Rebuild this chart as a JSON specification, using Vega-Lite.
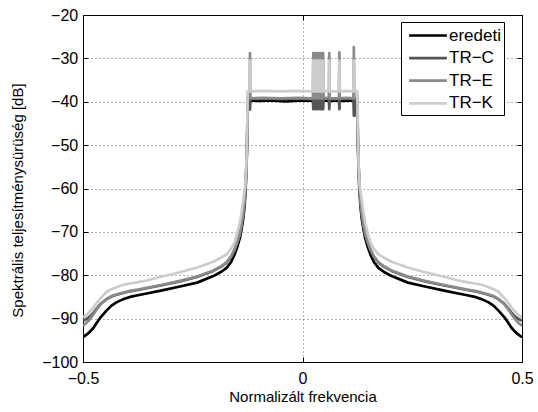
{
 "$schema": "https://vega.github.io/schema/vega-lite/v6.json",
 "width": 439, "height": 347,
 "autosize": {"type": "none"},
 "padding": {"left": 83, "top": 15, "right": 16, "bottom": 50},
 "background": "white",
 "config": {
  "view": {"stroke": "#000", "strokeWidth": 1},
  "font": "Liberation Sans",
  "axis": {"domainColor": "#000", "tickColor": "#000", "labelColor": "#000", "titleColor": "#000",
   "labelFont": "Liberation Sans", "titleFont": "Liberation Sans", "labelFontSize": 16, "titleFontSize": 15,
   "titleFontWeight": "normal", "gridColor": "#666", "gridDash": [1, 3], "gridWidth": 1, "tickSize": -5, "labelFlush": false}
 },
 "data": {"values": [
  {"s":"eredeti","f":-0.5,"v":-94.3},{"s":"eredeti","f":-0.492,"v":-93.7},{"s":"eredeti","f":-0.484,"v":-93.0},{"s":"eredeti","f":-0.476,"v":-92.1},{"s":"eredeti","f":-0.469,"v":-91.0},{"s":"eredeti","f":-0.46,"v":-89.7},{"s":"eredeti","f":-0.446,"v":-88.1},{"s":"eredeti","f":-0.435,"v":-87.0},{"s":"eredeti","f":-0.423,"v":-86.2},{"s":"eredeti","f":-0.408,"v":-85.5},{"s":"eredeti","f":-0.393,"v":-85.0},{"s":"eredeti","f":-0.375,"v":-84.6},{"s":"eredeti","f":-0.355,"v":-84.2},{"s":"eredeti","f":-0.32,"v":-83.5},{"s":"eredeti","f":-0.279,"v":-82.6},{"s":"eredeti","f":-0.24,"v":-81.7},{"s":"eredeti","f":-0.203,"v":-80.2},{"s":"eredeti","f":-0.185,"v":-79.2},{"s":"eredeti","f":-0.173,"v":-78.3},{"s":"eredeti","f":-0.163,"v":-77.0},{"s":"eredeti","f":-0.155,"v":-75.3},{"s":"eredeti","f":-0.148,"v":-73.3},{"s":"eredeti","f":-0.143,"v":-71.5},{"s":"eredeti","f":-0.139,"v":-69.5},{"s":"eredeti","f":-0.135,"v":-67},{"s":"eredeti","f":-0.132,"v":-64},{"s":"eredeti","f":-0.1295,"v":-60},{"s":"eredeti","f":-0.1275,"v":-55},{"s":"eredeti","f":-0.126,"v":-49},{"s":"eredeti","f":-0.125,"v":-39.9},
  {"s":"eredeti","f":-0.12,"v":-39.7},{"s":"eredeti","f":-0.1,"v":-39.8},{"s":"eredeti","f":-0.07,"v":-39.7},{"s":"eredeti","f":-0.04,"v":-39.9},{"s":"eredeti","f":0,"v":-39.7},{"s":"eredeti","f":0.03,"v":-39.8},{"s":"eredeti","f":0.06,"v":-39.7},{"s":"eredeti","f":0.09,"v":-39.8},{"s":"eredeti","f":0.12,"v":-39.7},
  {"s":"eredeti","f":0.125,"v":-39.9},{"s":"eredeti","f":0.126,"v":-49},{"s":"eredeti","f":0.1275,"v":-55},{"s":"eredeti","f":0.1295,"v":-60},{"s":"eredeti","f":0.132,"v":-64},{"s":"eredeti","f":0.135,"v":-67},{"s":"eredeti","f":0.139,"v":-69.5},{"s":"eredeti","f":0.143,"v":-71.5},{"s":"eredeti","f":0.148,"v":-73.3},{"s":"eredeti","f":0.155,"v":-75.3},{"s":"eredeti","f":0.163,"v":-77.0},{"s":"eredeti","f":0.173,"v":-78.3},{"s":"eredeti","f":0.185,"v":-79.2},{"s":"eredeti","f":0.203,"v":-80.2},{"s":"eredeti","f":0.24,"v":-81.7},{"s":"eredeti","f":0.279,"v":-82.6},{"s":"eredeti","f":0.32,"v":-83.5},{"s":"eredeti","f":0.355,"v":-84.2},{"s":"eredeti","f":0.375,"v":-84.6},{"s":"eredeti","f":0.393,"v":-85.0},{"s":"eredeti","f":0.408,"v":-85.5},{"s":"eredeti","f":0.423,"v":-86.2},{"s":"eredeti","f":0.435,"v":-87.0},{"s":"eredeti","f":0.446,"v":-88.1},{"s":"eredeti","f":0.46,"v":-89.7},{"s":"eredeti","f":0.469,"v":-91.0},{"s":"eredeti","f":0.476,"v":-92.1},{"s":"eredeti","f":0.484,"v":-93.0},{"s":"eredeti","f":0.492,"v":-93.7},{"s":"eredeti","f":0.5,"v":-94.3},

  {"s":"TR−C","f":-0.5,"v":-90.5},{"s":"TR−C","f":-0.492,"v":-90.1},{"s":"TR−C","f":-0.484,"v":-89.5},{"s":"TR−C","f":-0.476,"v":-88.6},{"s":"TR−C","f":-0.469,"v":-87.7},{"s":"TR−C","f":-0.46,"v":-86.6},{"s":"TR−C","f":-0.446,"v":-85.5},{"s":"TR−C","f":-0.435,"v":-84.9},{"s":"TR−C","f":-0.423,"v":-84.5},{"s":"TR−C","f":-0.408,"v":-84.1},{"s":"TR−C","f":-0.393,"v":-83.7},{"s":"TR−C","f":-0.375,"v":-83.4},{"s":"TR−C","f":-0.355,"v":-83.0},{"s":"TR−C","f":-0.32,"v":-82.3},{"s":"TR−C","f":-0.279,"v":-81.4},{"s":"TR−C","f":-0.24,"v":-80.4},{"s":"TR−C","f":-0.203,"v":-79.0},{"s":"TR−C","f":-0.185,"v":-78.0},{"s":"TR−C","f":-0.173,"v":-77.1},{"s":"TR−C","f":-0.163,"v":-75.8},{"s":"TR−C","f":-0.155,"v":-74.2},{"s":"TR−C","f":-0.148,"v":-72.3},{"s":"TR−C","f":-0.143,"v":-70.6},{"s":"TR−C","f":-0.139,"v":-68.6},{"s":"TR−C","f":-0.135,"v":-66},{"s":"TR−C","f":-0.132,"v":-63},{"s":"TR−C","f":-0.1295,"v":-59},{"s":"TR−C","f":-0.1275,"v":-54},{"s":"TR−C","f":-0.126,"v":-48},{"s":"TR−C","f":-0.125,"v":-39.4},
  {"s":"TR−C","f":-0.1206,"v":-39.4},{"s":"TR−C","f":-0.1196,"v":-41.8},{"s":"TR−C","f":-0.1186,"v":-39.4},{"s":"TR−C","f":-0.09,"v":-39.3},{"s":"TR−C","f":-0.05,"v":-39.4},{"s":"TR−C","f":-0.01,"v":-39.3},{"s":"TR−C","f":0.02,"v":-39.4},
  {"s":"TR−C","f":0.0236,"v":-39.4},{"s":"TR−C","f":0.0246,"v":-41.7},{"s":"TR−C","f":0.0266,"v":-39.4},{"s":"TR−C","f":0.0286,"v":-41.7},{"s":"TR−C","f":0.0306,"v":-39.4},{"s":"TR−C","f":0.0326,"v":-41.7},{"s":"TR−C","f":0.0346,"v":-39.4},{"s":"TR−C","f":0.0366,"v":-41.7},{"s":"TR−C","f":0.0386,"v":-39.4},{"s":"TR−C","f":0.0406,"v":-41.7},{"s":"TR−C","f":0.0426,"v":-39.4},{"s":"TR−C","f":0.0446,"v":-41.7},{"s":"TR−C","f":0.0458,"v":-39.4},{"s":"TR−C","f":0.047,"v":-41.7},{"s":"TR−C","f":0.048,"v":-39.4},
  {"s":"TR−C","f":0.055,"v":-39.3},{"s":"TR−C","f":0.06,"v":-39.4},{"s":"TR−C","f":0.061,"v":-41.7},{"s":"TR−C","f":0.062,"v":-39.4},{"s":"TR−C","f":0.083,"v":-39.4},{"s":"TR−C","f":0.084,"v":-41.7},{"s":"TR−C","f":0.085,"v":-39.4},{"s":"TR−C","f":0.1,"v":-39.3},{"s":"TR−C","f":0.116,"v":-39.4},{"s":"TR−C","f":0.117,"v":-43.2},{"s":"TR−C","f":0.118,"v":-39.4},{"s":"TR−C","f":0.119,"v":-43.2},{"s":"TR−C","f":0.12,"v":-39.4},{"s":"TR−C","f":0.125,"v":-39.4},
  {"s":"TR−C","f":0.126,"v":-48},{"s":"TR−C","f":0.1275,"v":-54},{"s":"TR−C","f":0.1295,"v":-59},{"s":"TR−C","f":0.132,"v":-63},{"s":"TR−C","f":0.135,"v":-66},{"s":"TR−C","f":0.139,"v":-68.6},{"s":"TR−C","f":0.143,"v":-70.6},{"s":"TR−C","f":0.148,"v":-72.3},{"s":"TR−C","f":0.155,"v":-74.2},{"s":"TR−C","f":0.163,"v":-75.8},{"s":"TR−C","f":0.173,"v":-77.1},{"s":"TR−C","f":0.185,"v":-78.0},{"s":"TR−C","f":0.203,"v":-79.0},{"s":"TR−C","f":0.24,"v":-80.4},{"s":"TR−C","f":0.279,"v":-81.4},{"s":"TR−C","f":0.32,"v":-82.3},{"s":"TR−C","f":0.355,"v":-83.0},{"s":"TR−C","f":0.375,"v":-83.4},{"s":"TR−C","f":0.393,"v":-83.7},{"s":"TR−C","f":0.408,"v":-84.1},{"s":"TR−C","f":0.423,"v":-84.5},{"s":"TR−C","f":0.435,"v":-84.9},{"s":"TR−C","f":0.446,"v":-85.5},{"s":"TR−C","f":0.46,"v":-86.6},{"s":"TR−C","f":0.469,"v":-87.7},{"s":"TR−C","f":0.476,"v":-88.6},{"s":"TR−C","f":0.484,"v":-89.5},{"s":"TR−C","f":0.492,"v":-90.1},{"s":"TR−C","f":0.5,"v":-90.5},

  {"s":"TR−E","f":-0.5,"v":-91.6},{"s":"TR−E","f":-0.492,"v":-91.0},{"s":"TR−E","f":-0.484,"v":-90.1},{"s":"TR−E","f":-0.476,"v":-89.0},{"s":"TR−E","f":-0.469,"v":-87.9},{"s":"TR−E","f":-0.46,"v":-86.7},{"s":"TR−E","f":-0.446,"v":-85.4},{"s":"TR−E","f":-0.435,"v":-84.8},{"s":"TR−E","f":-0.423,"v":-84.4},{"s":"TR−E","f":-0.408,"v":-84.0},{"s":"TR−E","f":-0.393,"v":-83.6},{"s":"TR−E","f":-0.375,"v":-83.3},{"s":"TR−E","f":-0.355,"v":-82.9},{"s":"TR−E","f":-0.32,"v":-82.2},{"s":"TR−E","f":-0.279,"v":-81.3},{"s":"TR−E","f":-0.24,"v":-80.3},{"s":"TR−E","f":-0.203,"v":-78.9},{"s":"TR−E","f":-0.185,"v":-77.9},{"s":"TR−E","f":-0.173,"v":-77.0},{"s":"TR−E","f":-0.163,"v":-75.7},{"s":"TR−E","f":-0.155,"v":-74.1},{"s":"TR−E","f":-0.148,"v":-72.2},{"s":"TR−E","f":-0.143,"v":-70.5},{"s":"TR−E","f":-0.139,"v":-68.5},{"s":"TR−E","f":-0.135,"v":-65.8},{"s":"TR−E","f":-0.132,"v":-62.8},{"s":"TR−E","f":-0.1295,"v":-58.8},{"s":"TR−E","f":-0.1275,"v":-53.8},{"s":"TR−E","f":-0.126,"v":-47.8},{"s":"TR−E","f":-0.125,"v":-39.2},
  {"s":"TR−E","f":-0.1206,"v":-39.2},{"s":"TR−E","f":-0.1196,"v":-28.8},{"s":"TR−E","f":-0.1186,"v":-39.2},{"s":"TR−E","f":-0.09,"v":-39.1},{"s":"TR−E","f":-0.05,"v":-39.2},{"s":"TR−E","f":-0.01,"v":-39.1},{"s":"TR−E","f":0.02,"v":-39.2},
  {"s":"TR−E","f":0.0236,"v":-39.2},{"s":"TR−E","f":0.0246,"v":-28.8},{"s":"TR−E","f":0.0266,"v":-39.2},{"s":"TR−E","f":0.0286,"v":-28.8},{"s":"TR−E","f":0.0306,"v":-39.2},{"s":"TR−E","f":0.0326,"v":-28.8},{"s":"TR−E","f":0.0346,"v":-39.2},{"s":"TR−E","f":0.0366,"v":-28.8},{"s":"TR−E","f":0.0386,"v":-39.2},{"s":"TR−E","f":0.0406,"v":-28.8},{"s":"TR−E","f":0.0426,"v":-39.2},{"s":"TR−E","f":0.0446,"v":-28.8},{"s":"TR−E","f":0.0458,"v":-39.2},{"s":"TR−E","f":0.047,"v":-28.8},{"s":"TR−E","f":0.048,"v":-39.2},
  {"s":"TR−E","f":0.055,"v":-39.1},{"s":"TR−E","f":0.06,"v":-39.2},{"s":"TR−E","f":0.061,"v":-28.8},{"s":"TR−E","f":0.062,"v":-39.2},{"s":"TR−E","f":0.083,"v":-39.2},{"s":"TR−E","f":0.084,"v":-28.6},{"s":"TR−E","f":0.085,"v":-39.2},{"s":"TR−E","f":0.1,"v":-39.1},{"s":"TR−E","f":0.116,"v":-39.2},{"s":"TR−E","f":0.117,"v":-27.4},{"s":"TR−E","f":0.118,"v":-39.2},{"s":"TR−E","f":0.125,"v":-39.2},
  {"s":"TR−E","f":0.126,"v":-47.8},{"s":"TR−E","f":0.1275,"v":-53.8},{"s":"TR−E","f":0.1295,"v":-58.8},{"s":"TR−E","f":0.132,"v":-62.8},{"s":"TR−E","f":0.135,"v":-65.8},{"s":"TR−E","f":0.139,"v":-68.5},{"s":"TR−E","f":0.143,"v":-70.5},{"s":"TR−E","f":0.148,"v":-72.2},{"s":"TR−E","f":0.155,"v":-74.1},{"s":"TR−E","f":0.163,"v":-75.7},{"s":"TR−E","f":0.173,"v":-77.0},{"s":"TR−E","f":0.185,"v":-77.9},{"s":"TR−E","f":0.203,"v":-78.9},{"s":"TR−E","f":0.24,"v":-80.3},{"s":"TR−E","f":0.279,"v":-81.3},{"s":"TR−E","f":0.32,"v":-82.2},{"s":"TR−E","f":0.355,"v":-82.9},{"s":"TR−E","f":0.375,"v":-83.3},{"s":"TR−E","f":0.393,"v":-83.6},{"s":"TR−E","f":0.408,"v":-84.0},{"s":"TR−E","f":0.423,"v":-84.4},{"s":"TR−E","f":0.435,"v":-84.8},{"s":"TR−E","f":0.446,"v":-85.4},{"s":"TR−E","f":0.46,"v":-86.7},{"s":"TR−E","f":0.469,"v":-87.9},{"s":"TR−E","f":0.476,"v":-89.0},{"s":"TR−E","f":0.484,"v":-90.1},{"s":"TR−E","f":0.492,"v":-91.0},{"s":"TR−E","f":0.5,"v":-91.6},

  {"s":"TR−K","f":-0.5,"v":-89.7},{"s":"TR−K","f":-0.492,"v":-89.2},{"s":"TR−K","f":-0.484,"v":-88.3},{"s":"TR−K","f":-0.476,"v":-87.4},{"s":"TR−K","f":-0.469,"v":-86.4},{"s":"TR−K","f":-0.46,"v":-85.3},{"s":"TR−K","f":-0.446,"v":-83.8},{"s":"TR−K","f":-0.435,"v":-83.2},{"s":"TR−K","f":-0.423,"v":-82.7},{"s":"TR−K","f":-0.408,"v":-82.2},{"s":"TR−K","f":-0.393,"v":-81.9},{"s":"TR−K","f":-0.375,"v":-81.6},{"s":"TR−K","f":-0.355,"v":-81.2},{"s":"TR−K","f":-0.32,"v":-80.3},{"s":"TR−K","f":-0.279,"v":-79.3},{"s":"TR−K","f":-0.24,"v":-78.2},{"s":"TR−K","f":-0.203,"v":-76.9},{"s":"TR−K","f":-0.185,"v":-75.9},{"s":"TR−K","f":-0.173,"v":-75.2},{"s":"TR−K","f":-0.163,"v":-74.0},{"s":"TR−K","f":-0.155,"v":-72.5},{"s":"TR−K","f":-0.149,"v":-70.5},{"s":"TR−K","f":-0.143,"v":-68},{"s":"TR−K","f":-0.138,"v":-65},{"s":"TR−K","f":-0.134,"v":-62},{"s":"TR−K","f":-0.13,"v":-59},{"s":"TR−K","f":-0.128,"v":-55},{"s":"TR−K","f":-0.1265,"v":-49},{"s":"TR−K","f":-0.1255,"v":-43},{"s":"TR−K","f":-0.125,"v":-37.6},
  {"s":"TR−K","f":-0.1206,"v":-37.6},{"s":"TR−K","f":-0.1196,"v":-30.5},{"s":"TR−K","f":-0.1186,"v":-37.6},{"s":"TR−K","f":-0.09,"v":-37.5},{"s":"TR−K","f":-0.05,"v":-37.6},{"s":"TR−K","f":-0.01,"v":-37.5},{"s":"TR−K","f":0.02,"v":-37.6},
  {"s":"TR−K","f":0.0236,"v":-37.6},{"s":"TR−K","f":0.0246,"v":-30.5},{"s":"TR−K","f":0.0266,"v":-37.6},{"s":"TR−K","f":0.0286,"v":-30.5},{"s":"TR−K","f":0.0306,"v":-37.6},{"s":"TR−K","f":0.0326,"v":-30.5},{"s":"TR−K","f":0.0346,"v":-37.6},{"s":"TR−K","f":0.0366,"v":-30.5},{"s":"TR−K","f":0.0386,"v":-37.6},{"s":"TR−K","f":0.0406,"v":-30.5},{"s":"TR−K","f":0.0426,"v":-37.6},{"s":"TR−K","f":0.0446,"v":-30.5},{"s":"TR−K","f":0.0458,"v":-37.6},{"s":"TR−K","f":0.047,"v":-30.5},{"s":"TR−K","f":0.048,"v":-37.6},
  {"s":"TR−K","f":0.055,"v":-37.5},{"s":"TR−K","f":0.06,"v":-37.6},{"s":"TR−K","f":0.061,"v":-30.5},{"s":"TR−K","f":0.062,"v":-37.6},{"s":"TR−K","f":0.083,"v":-37.6},{"s":"TR−K","f":0.084,"v":-30.5},{"s":"TR−K","f":0.085,"v":-37.6},{"s":"TR−K","f":0.1,"v":-37.5},{"s":"TR−K","f":0.116,"v":-37.6},{"s":"TR−K","f":0.117,"v":-30.5},{"s":"TR−K","f":0.118,"v":-37.6},{"s":"TR−K","f":0.125,"v":-37.6},
  {"s":"TR−K","f":0.1255,"v":-43},{"s":"TR−K","f":0.1265,"v":-49},{"s":"TR−K","f":0.128,"v":-55},{"s":"TR−K","f":0.13,"v":-59},{"s":"TR−K","f":0.134,"v":-62},{"s":"TR−K","f":0.138,"v":-65},{"s":"TR−K","f":0.143,"v":-68},{"s":"TR−K","f":0.149,"v":-70.5},{"s":"TR−K","f":0.155,"v":-72.5},{"s":"TR−K","f":0.163,"v":-74.0},{"s":"TR−K","f":0.173,"v":-75.2},{"s":"TR−K","f":0.185,"v":-75.9},{"s":"TR−K","f":0.203,"v":-76.9},{"s":"TR−K","f":0.24,"v":-78.2},{"s":"TR−K","f":0.279,"v":-79.3},{"s":"TR−K","f":0.32,"v":-80.3},{"s":"TR−K","f":0.355,"v":-81.2},{"s":"TR−K","f":0.375,"v":-81.6},{"s":"TR−K","f":0.393,"v":-81.9},{"s":"TR−K","f":0.408,"v":-82.2},{"s":"TR−K","f":0.423,"v":-82.7},{"s":"TR−K","f":0.435,"v":-83.2},{"s":"TR−K","f":0.446,"v":-83.8},{"s":"TR−K","f":0.46,"v":-85.3},{"s":"TR−K","f":0.469,"v":-86.4},{"s":"TR−K","f":0.476,"v":-87.4},{"s":"TR−K","f":0.484,"v":-88.3},{"s":"TR−K","f":0.492,"v":-89.2},{"s":"TR−K","f":0.5,"v":-89.7}
 ]},
 "layer": [
  {
   "mark": {"type": "line", "strokeWidth": 2.7, "strokeJoin": "round", "clip": true},
   "encoding": {
    "x": {"field": "f", "type": "quantitative", "scale": {"domain": [-0.5, 0.5], "nice": false},
     "axis": {"orient": "bottom", "values": [-0.5, 0, 0.5], "format": "~g", "grid": true, "title": "Normalizált frekvencia", "labelPadding": 13.5, "titlePadding": 3}},
    "y": {"field": "v", "type": "quantitative", "scale": {"domain": [-100, -20], "nice": false},
     "axis": {"orient": "left", "values": [-100, -90, -80, -70, -60, -50, -40, -30, -20], "format": "d", "grid": true, "title": "Spektrális teljesítménysürüség [dB]", "labelPadding": 10.3, "titlePadding": 16, "titleY": 185}},
    "color": {"field": "s", "type": "nominal",
     "scale": {"domain": ["eredeti", "TR−C", "TR−E", "TR−K"], "range": ["#000000", "#555555", "#8a8a8a", "#cccccc"]},
     "legend": {"orient": "none", "legendX": 318, "legendY": 7, "title": null, "symbolType": "M-0.6,0H3.6", "symbolSize": 324, "symbolStrokeWidth": 2.7, "symbolFillColor": "transparent",
      "labelFontSize": 17, "labelFont": "Liberation Sans", "labelColor": "#000", "padding": 3, "rowPadding": 3.6, "labelOffset": 24,
      "strokeColor": "#000", "fillColor": "#fff"}}
   }
  },
  {
   "mark": {"type": "line", "opacity": 0},
   "encoding": {
    "x": {"field": "f", "type": "quantitative", "axis": {"orient": "top", "values": [-0.5, 0, 0.5], "labels": false, "title": null, "grid": false}},
    "y": {"field": "v", "type": "quantitative", "axis": {"orient": "right", "values": [-100, -90, -80, -70, -60, -50, -40, -30, -20], "labels": false, "title": null, "grid": false}}
   }
  }
 ],
 "resolve": {"axis": {"x": "independent", "y": "independent"}}
}
